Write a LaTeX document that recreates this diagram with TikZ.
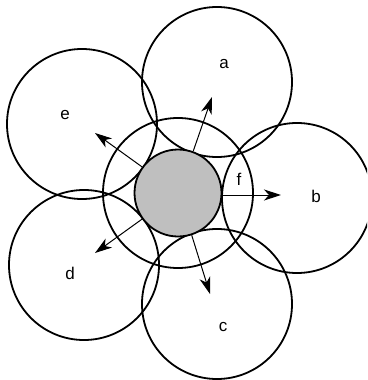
\documentclass[tikz,border=0pt]{standalone}
\usepackage{fontspec}
\setmainfont{Liberation Sans}
\usetikzlibrary{arrows.meta,calc}
\begin{document}
\begin{tikzpicture}[x=1pt,y=-1pt,
  ring/.style={circle,draw=black,line width=1.8pt,minimum size=150pt,inner sep=0pt},
  core/.style={circle,draw=black,line width=1.8pt,fill=gray!50,minimum size=87pt,inner sep=0pt},
  lbl/.style={font=\fontsize{17}{20}\selectfont,inner sep=0pt},
  arr/.style={line width=1pt,-{Stealth[length=17pt,width=11pt,inset=5pt]}}]
\useasboundingbox (0,0) rectangle (367,380);
\begin{scope}
\clip (0,0) rectangle (367,380);
\node[ring] (mid) at (178,193) {};
\node[ring] (ca) at (217,82) {};
\node[ring] (cb) at (297,198) {};
\node[ring] (cc) at (217,304) {};
\node[ring] (cd) at (84,265) {};
\node[ring] (ce) at (82,124) {};
\node[core] (g) at (178,193) {};
\end{scope}
\coordinate (ta) at ($(g)+(34,-96)$);
\coordinate (tb) at (281,195);
\coordinate (tc) at (210,294);
\coordinate (td) at (95,253);
\coordinate (te) at (95,133);
\draw[arr] (g.70.5) -- (ta);
\draw[arr] (g.east |- tb) -- (tb);
\draw[arr] (g.-72) -- (tc);
\draw[arr] (g.216) -- (td);
\draw[arr] (g.144) -- (te);
\node[lbl] (la) at (224,64) {a};
\node[lbl] (lb) at (316,196) {b};
\node[lbl] (lc) at (223,327) {c};
\node[lbl] (ld) at (70,273) {d};
\node[lbl] (le) at (65,115) {e};
\node[lbl] (lf) at (239,179) {f};
\end{tikzpicture}
\end{document}
